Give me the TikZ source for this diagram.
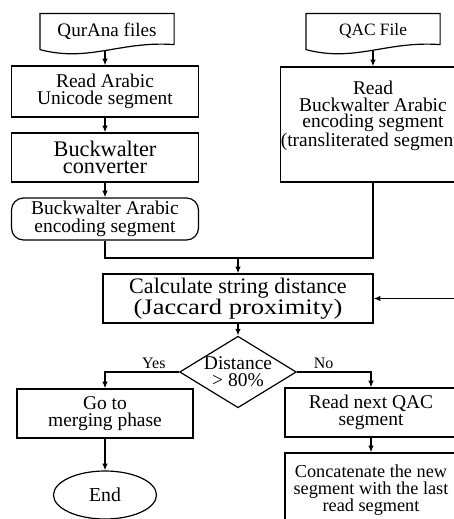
\documentclass[tikz,border=0pt]{standalone}
\usepackage{fontspec}
\setmainfont{Liberation Serif}
\usetikzlibrary{shapes.geometric,arrows.meta,positioning,calc}

\def\pxu{0.75pt}
\newcommand\fsize[2]{\fontsize{#1}{#2}\selectfont}
% document shape drawn round a named node
\newcommand\docshape[1]{%
  \draw (#1.north west) -- (#1.north east) -- ([yshift=3pt]#1.south east)
    .. controls ([xshift=-40pt,yshift=6pt]#1.south east) and ([xshift=37pt,yshift=-10.5pt]#1.south west)
    .. ([yshift=-0.75pt]#1.south west) -- cycle;}

\tikzset{
  block/.style={draw, rectangle, align=center, inner sep=0pt, font=\fsize{14.6}{13}},
  docnode/.style={rectangle, align=center, inner sep=0pt, font=\fsize{14.3}{12},
    minimum width=133*\pxu, minimum height=34*\pxu},
  endnode/.style={draw, ellipse, inner sep=0pt, font=\fsize{14.8}{12}},
  choice/.style={draw, diamond, aspect=1.63, inner sep=0pt, align=center, font=\fsize{14.6}{12.5}},
  branch/.style={font=\fsize{12}{12}, inner sep=2pt}
}

\begin{document}
\begin{tikzpicture}[x=0.75pt, y=-0.75pt, line width=0.9pt, >={Latex[length=5pt,width=4pt]}]
\useasboundingbox (0,0) rectangle (454,519);
\clip (0,0) rectangle (454,519);

% left column
\node[docnode] (qurana) at (107,31) {QurAna files};
\docshape{qurana}
\node[block, minimum width=187*\pxu, minimum height=51*\pxu] (unicode) at (105,91.5) {Read Arabic\\Unicode segment};
\node[block, font=\fsize{16.7}{13}, minimum width=187*\pxu, minimum height=49*\pxu] (conv) at (105,157.5) {Buckwalter\\converter};
\node[block, rounded corners=12*\pxu, minimum width=187*\pxu, minimum height=42*\pxu] (bwseg) at (105,219) {Buckwalter Arabic\\encoding segment};

% right column
\node[docnode, font=\fsize{13}{12}] (qac) at (373,31) {QAC File};
\docshape{qac}
\node[block, font=\fsize{14.6}{12.5}, text depth=16pt, minimum width=184*\pxu, minimum height=115*\pxu] (qacread) at (373,124.5) {Read\\Buckwalter Arabic\\encoding segment\\(transliterated segment)};

% comparison
\coordinate (join) at (238,258);
\node[block, font=\fsize{16.6}{12.5}, minimum width=270*\pxu, minimum height=49*\pxu] (calc) at (238,298.5)
  {Calculate string distance\\{\addfontfeature{FakeStretch=1.2}(Jaccard proximity)}};
\node[choice, minimum width=114*\pxu, minimum height=70*\pxu] (dist) at (238,372) {Distance\\> 80\%};

% outcomes
\node[block, font=\fsize{14.6}{12.5}, minimum width=176*\pxu, minimum height=49*\pxu] (go) at (105,413.5) {Go to\\merging phase};
\node[endnode, minimum width=103*\pxu, minimum height=48*\pxu] (end) at (105,495) {End};
\node[block, minimum width=172*\pxu, minimum height=49*\pxu] (next) at (371,412.5) {Read next QAC\\segment};
\node[block, font=\fsize{13.7}{12.5}, minimum width=172*\pxu, minimum height=74*\pxu] (concat) at (371,490)
  {Concatenate the new\\segment with the last\\read segment};
\path (calc.east) ++(87,0) coordinate (back);

% connectors
\draw[->] ([yshift=-1.5pt]qurana.south -| unicode.north) -- (unicode.north);
\draw[->] (unicode) -- (conv);
\draw[->] (conv) -- (bwseg);
\draw[->] ([yshift=-1.5pt]qac.south) -- (qacread.north);
\draw (bwseg.south) |- (join);
\draw (qacread.south) |- (join);
\draw[->] (join) -- (calc.north);
\draw[->] (calc) -- (dist);
\draw[->] (dist.west) -| (go.north) node[branch, pos=0.17, above] {Yes};
\draw[->] (dist.east) -| (next.north) node[branch, pos=0.18, above] {No};
\draw[->] (go) -- (end);
\draw[->] (next) -- (concat);
\draw[->] (back) -- (calc.east);
\end{tikzpicture}
\end{document}
